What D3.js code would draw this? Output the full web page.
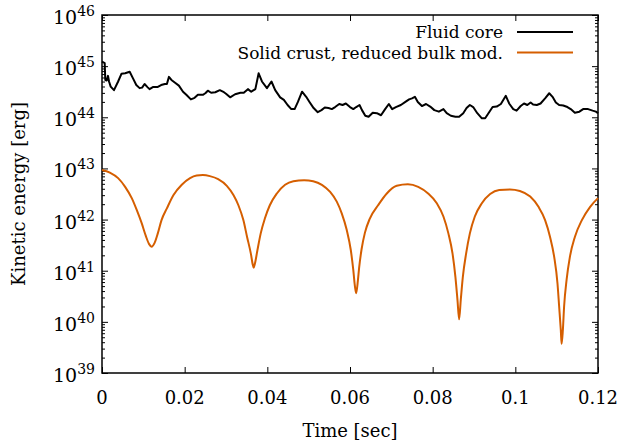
<!DOCTYPE html>
<html>
<head>
<meta charset="utf-8">
<script src="https://cdn.jsdelivr.net/npm/d3@7"></script>
<style>
  body { margin: 0; background: #fff; }
</style>
</head>
<body>
<svg id="canvas"></svg>
<script>
// time [sec] and log10 of kinetic energy [erg]
const fluidTime = [0, 0.00065, 0.0008, 0.00114, 0.00145, 0.0017, 0.0021, 0.0029, 0.0039, 0.0047,
  0.0056, 0.0067, 0.0075, 0.0083, 0.0091, 0.0097, 0.0103, 0.0110, 0.0115, 0.0123,
  0.0134, 0.0143, 0.0152, 0.0157, 0.0162, 0.0168, 0.0176, 0.0186, 0.0196, 0.0204,
  0.0215, 0.0224, 0.0232, 0.0244, 0.0250, 0.0256, 0.0264, 0.0274, 0.0285, 0.0295,
  0.0300, 0.0310, 0.0322, 0.0335, 0.0343, 0.0353, 0.0361, 0.0371, 0.0379, 0.0387,
  0.0399, 0.0410, 0.0419, 0.0431, 0.0440, 0.0449, 0.0458, 0.0466, 0.0474, 0.0484,
  0.0494, 0.0502, 0.0512, 0.0522, 0.0531, 0.0539, 0.0548, 0.0556, 0.0564, 0.0574,
  0.0582, 0.0590, 0.0600, 0.0608, 0.0615, 0.0623, 0.0629, 0.0637, 0.0645, 0.0655,
  0.0665, 0.0675, 0.0685, 0.0694, 0.0702, 0.0711, 0.0723, 0.0734, 0.0743, 0.0750,
  0.0757, 0.0764, 0.0774, 0.0784, 0.0794, 0.0804, 0.0815, 0.0826, 0.0834, 0.0844,
  0.0855, 0.0864, 0.0874, 0.0882, 0.0890, 0.0898, 0.0908, 0.0919, 0.0927, 0.0935,
  0.0945, 0.0955, 0.0965, 0.0977, 0.0985, 0.0995, 0.1003, 0.1013, 0.1021, 0.1029,
  0.1037, 0.1043, 0.1052, 0.1061, 0.1072, 0.1082, 0.1090, 0.1098, 0.1106, 0.1116,
  0.1126, 0.1134, 0.1144, 0.1155, 0.1164, 0.1176, 0.1187, 0.1195, 0.1200];
const fluidLogE = [45.09, 45.06, 44.73, 44.72, 44.81, 44.70, 44.60, 44.53, 44.70, 44.85,
  44.86, 44.89, 44.76, 44.63, 44.57, 44.58, 44.65, 44.59, 44.55, 44.59,
  44.59, 44.63, 44.65, 44.65, 44.79, 44.73, 44.68, 44.62, 44.50, 44.44,
  44.35, 44.38, 44.44, 44.44, 44.47, 44.52, 44.48, 44.49, 44.53, 44.49,
  44.46, 44.39, 44.45, 44.48, 44.48, 44.55, 44.50, 44.55, 44.86, 44.70,
  44.57, 44.70, 44.53, 44.39, 44.34, 44.24, 44.16, 44.16, 44.30, 44.50,
  44.40, 44.30, 44.18, 44.10, 44.14, 44.19, 44.18, 44.16, 44.20, 44.26,
  44.24, 44.27, 44.20, 44.16, 44.20, 44.24, 44.14, 44.03, 44.01, 44.09,
  44.08, 44.04, 44.16, 44.26, 44.16, 44.20, 44.24, 44.30, 44.35, 44.37,
  44.40, 44.30, 44.22, 44.26, 44.21, 44.14, 44.11, 44.16, 44.08, 44.03,
  44.01, 44.01, 44.08, 44.18, 44.24, 44.20, 44.08, 43.98, 43.98, 44.08,
  44.20, 44.21, 44.26, 44.42, 44.27, 44.16, 44.13, 44.22, 44.27, 44.24,
  44.29, 44.25, 44.24, 44.27, 44.37, 44.47, 44.40, 44.29, 44.24, 44.23,
  44.20, 44.16, 44.09, 44.11, 44.16, 44.16, 44.13, 44.11, 44.08];

const crustTime = [0, 0.0019, 0.0039, 0.0056, 0.0072, 0.0084, 0.0096, 0.0106, 0.0114, 0.0120,
  0.0127, 0.0135, 0.0144, 0.0157, 0.0173, 0.0193, 0.0213, 0.0229, 0.0244, 0.0261,
  0.0281, 0.0302, 0.0318, 0.0330, 0.0342, 0.0351, 0.0360, 0.0365, 0.0367, 0.0370,
  0.0376, 0.0384, 0.0394, 0.0406, 0.0423, 0.0443, 0.0463, 0.0489, 0.0511, 0.0532,
  0.0552, 0.0568, 0.0580, 0.0592, 0.0602, 0.0608, 0.0612, 0.0615, 0.0619, 0.0622,
  0.0628, 0.0636, 0.0648, 0.0668, 0.0689, 0.0713, 0.0740, 0.0765, 0.0789, 0.0810,
  0.0826, 0.0838, 0.0848, 0.0855, 0.0860, 0.0864, 0.0868, 0.0873, 0.0881, 0.0890,
  0.0902, 0.0919, 0.0939, 0.0961, 0.0987, 0.1011, 0.1036, 0.1056, 0.1072, 0.1084,
  0.1094, 0.1102, 0.1106, 0.1110, 0.1112, 0.1115, 0.1118, 0.1124, 0.1132, 0.1144,
  0.1161, 0.1181, 0.1200];
const crustLogE = [42.97, 42.92, 42.81, 42.64, 42.42, 42.19, 41.93, 41.68, 41.52, 41.47,
  41.54, 41.73, 41.99, 42.22, 42.48, 42.68, 42.81, 42.86, 42.87, 42.85,
  42.79, 42.66, 42.48, 42.28, 41.99, 41.66, 41.34, 41.11, 41.06, 41.14,
  41.40, 41.73, 42.02, 42.28, 42.51, 42.68, 42.75, 42.77, 42.75, 42.68,
  42.54, 42.35, 42.12, 41.80, 41.40, 41.01, 40.69, 40.56, 40.80, 41.05,
  41.42, 41.74, 42.02, 42.28, 42.51, 42.66, 42.69, 42.64, 42.51, 42.32,
  42.06, 41.73, 41.34, 40.88, 40.43, 40.05, 40.43, 40.88, 41.34, 41.73,
  42.06, 42.32, 42.50, 42.58, 42.59, 42.56, 42.45, 42.25, 41.99, 41.66,
  41.27, 40.75, 40.30, 39.84, 39.57, 39.84, 40.30, 40.82, 41.27, 41.66,
  41.99, 42.25, 42.42];

const xTicks = [0, 0.02, 0.04, 0.06, 0.08, 0.1, 0.12];
const xTickLabels = ["0", "0.02", "0.04", "0.06", "0.08", "0.1", "0.12"];
const yExponents = [39, 40, 41, 42, 43, 44, 45, 46];
const seriesNames = ["Fluid core", "Solid crust, reduced bulk mod."];
const seriesColors = ["#000000", "#d55e00"];

const width = 622;
const height = 444;
const margin = { top: 15, right: 24, bottom: 71, left: 102 };
const fontFamily = "DejaVu Serif";
const fontSize = 18;

const svg = d3.select("#canvas")
  .attr("width", width)
  .attr("height", height);

const chartWidth = width - margin.left - margin.right;
const chartHeight = height - margin.top - margin.bottom;

const chartArea = svg.append("g")
  .attr("transform", `translate(${margin.left},${margin.top})`);

const x = d3.scaleLinear()
  .domain([0, 0.12])
  .range([0, chartWidth]);

const y = d3.scaleLog()
  .domain([1e39, 1e46])
  .range([chartHeight, 0]);

const majorY = yExponents.map(e => Math.pow(10, e));
const minorY = [];
yExponents.slice(0, -1).forEach(e => {
  for (let m = 2; m <= 9; m++) minorY.push(m * Math.pow(10, e));
});

// ticks point inward, on all four sides
function tickAxis(axis, values, size) {
  return axis.tickValues(values).tickSize(size).tickFormat("");
}

const axisGroups = [
  chartArea.append("g").call(tickAxis(d3.axisLeft(y), majorY, -6)),
  chartArea.append("g").call(tickAxis(d3.axisLeft(y), minorY, -3)),
  chartArea.append("g").attr("transform", `translate(${chartWidth},0)`).call(tickAxis(d3.axisRight(y), majorY, -6)),
  chartArea.append("g").attr("transform", `translate(${chartWidth},0)`).call(tickAxis(d3.axisRight(y), minorY, -3)),
  chartArea.append("g").attr("transform", `translate(0,${chartHeight})`).call(tickAxis(d3.axisBottom(x), xTicks, -6)),
  chartArea.append("g").call(tickAxis(d3.axisTop(x), xTicks, -6))
];
axisGroups.forEach(g => {
  g.select(".domain").remove();
  g.selectAll("line").attr("stroke", "#000").attr("stroke-width", 1);
});

chartArea.append("rect")
  .attr("width", chartWidth)
  .attr("height", chartHeight)
  .attr("fill", "none")
  .attr("stroke", "#000")
  .attr("stroke-width", 1.5);

// y tick labels 10^n
yExponents.forEach(e => {
  const t = chartArea.append("text")
    .attr("x", -7)
    .attr("y", y(Math.pow(10, e)) + 9)
    .attr("text-anchor", "end")
    .attr("font-family", fontFamily)
    .attr("font-size", fontSize + 1)
    .attr("fill", "#000");
  t.append("tspan").text("10");
  t.append("tspan").attr("dy", -8).attr("font-size", 14).text(e);
});

// x tick labels
chartArea.selectAll(".xlabel")
  .data(xTicks)
  .enter().append("text")
  .attr("class", "xlabel")
  .attr("x", d => x(d))
  .attr("y", chartHeight + 31)
  .attr("text-anchor", "middle")
  .attr("font-family", fontFamily)
  .attr("font-size", fontSize)
  .attr("fill", "#000")
  .text((d, i) => xTickLabels[i]);

svg.append("text")
  .attr("x", margin.left + chartWidth / 2)
  .attr("y", height - 7)
  .attr("text-anchor", "middle")
  .attr("font-family", fontFamily)
  .attr("font-size", fontSize)
  .text("Time [sec]");

svg.append("text")
  .attr("transform", `translate(25,${margin.top + chartHeight / 2}) rotate(-90)`)
  .attr("text-anchor", "middle")
  .attr("font-family", fontFamily)
  .attr("font-size", fontSize)
  .text("Kinetic energy [erg]");

const line = d3.line()
  .x(d => x(d[0]))
  .y(d => y(Math.pow(10, d[1])));

const fluidData = fluidTime.map((t, i) => [t, fluidLogE[i]]);
const crustData = crustTime.map((t, i) => [t, crustLogE[i]]);

chartArea.append("path")
  .datum(crustData)
  .attr("fill", "none")
  .attr("stroke", seriesColors[1])
  .attr("stroke-width", 2)
  .attr("d", line.curve(d3.curveMonotoneX));

chartArea.append("path")
  .datum(fluidData)
  .attr("fill", "none")
  .attr("stroke", seriesColors[0])
  .attr("stroke-width", 2)
  .attr("stroke-linejoin", "round")
  .attr("d", line.curve(d3.curveLinear));

// legend, top right
const legend = svg.append("g");
seriesNames.forEach((name, i) => {
  const ly = 32 + i * 20.5;
  legend.append("text")
    .attr("x", 503)
    .attr("y", ly + 6)
    .attr("text-anchor", "end")
    .attr("font-family", fontFamily)
    .attr("font-size", 17)
    .text(name);
  legend.append("line")
    .attr("x1", 517).attr("x2", 573)
    .attr("y1", ly).attr("y2", ly)
    .attr("stroke", seriesColors[i])
    .attr("stroke-width", 2);
});
</script>
</body>
</html>
